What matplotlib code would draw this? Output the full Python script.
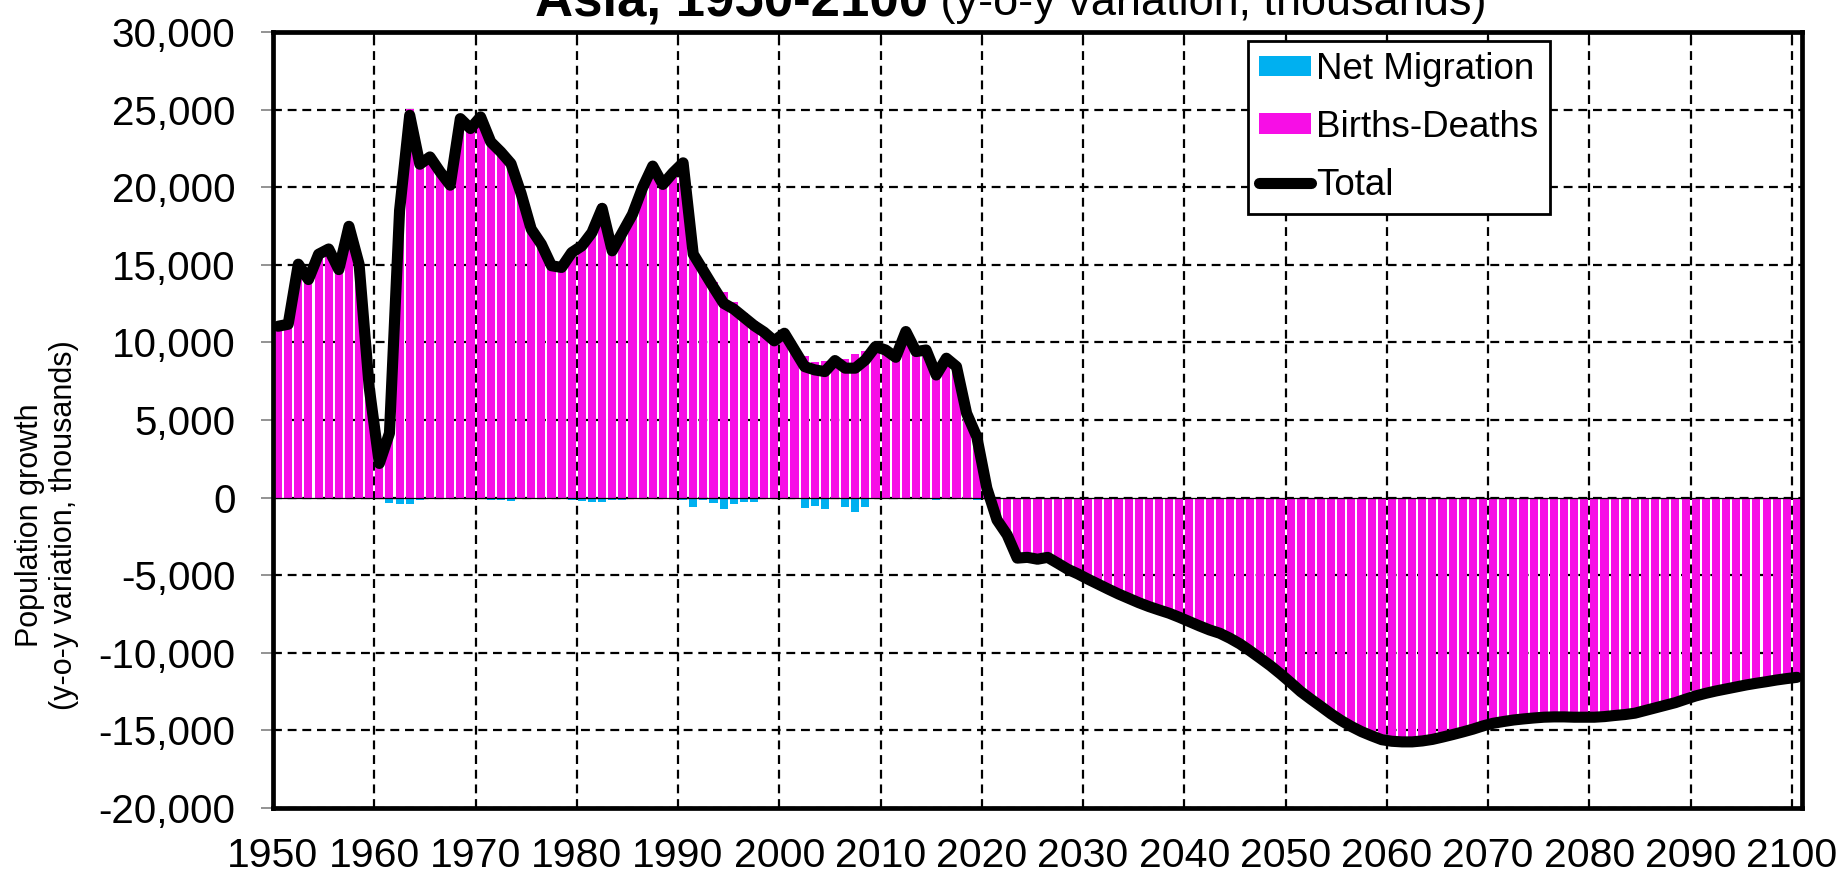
import numpy as np
import matplotlib
matplotlib.use("Agg")
import matplotlib.pyplot as plt
from matplotlib.patches import Patch
from matplotlib.lines import Line2D
from matplotlib.ticker import FuncFormatter

plt.rcParams['font.family'] = ['Liberation Sans', 'DejaVu Sans']

# ---------------- data (thousands, y-o-y) ----------------
years = list(range(1950, 2101))

total = [
    # 1950-1959
    11040, 11170, 15040, 14050, 15680, 16020, 14690, 17480, 15040, 7100,
    # 1960-1969
    2200, 4150, 18500, 24640, 21480, 21950, 20990, 20130, 24420, 23780,
    # 1970-1979
    24530, 22920, 22270, 21520, 19590, 17300, 16330, 14940, 14830, 15790,
    # 1980-1989
    16220, 17080, 18640, 15900, 17080, 18250, 19970, 21360, 20180, 20930,
    # 1990-1999
    21570, 15690, 14620, 13550, 12520, 12150, 11620, 11090, 10660, 10100,
    # 2000-2009
    10590, 9510, 8440, 8230, 8120, 8830, 8340, 8340, 8870, 9730,
    # 2010-2019
    9510, 9040, 10700, 9410, 9510, 7900, 8980, 8440, 5430, 3930,
    # 2020-2029
    600, -1440, -2400, -3900, -3850, -3970, -3850, -4230, -4620, -4920,
    # 2030-2039
    -5260, -5580, -5900, -6210, -6490, -6770, -7020, -7240, -7450, -7710,
    # 2040-2049
    -7990, -8270, -8530, -8740, -9060, -9430, -9880, -10350, -10830, -11360,
    # 2050-2059
    -11920, -12500, -12990, -13460, -13940, -14370, -14750, -15080, -15350, -15600,
    # 2060-2069
    -15700, -15740, -15740, -15680, -15580, -15430, -15270, -15100, -14920, -14710,
    # 2070-2079
    -14540, -14430, -14330, -14260, -14200, -14150, -14130, -14130, -14150, -14150,
    # 2080-2089
    -14150, -14110, -14040, -13980, -13890, -13720, -13550, -13380, -13210, -12990,
    # 2090-2099
    -12780, -12610, -12460, -12330, -12200, -12070, -11960, -11860, -11750, -11660,
    # 2100
    -11580,
]

net_migration = [
    # 1950-1959
    -20, -20, -20, -20, -20, -20, -20, -20, -20, -20,
    # 1960-1969
    -20, -340, -390, -430, -170, -110, -20, -20, -20, -20,
    # 1970-1979
    -20, -150, -150, -200, -100, -90, -90, -30, -30, -150,
    # 1980-1989
    -210, -260, -260, -150, -150, -50, -30, -30, -60, -100,
    # 1990-1999
    -150, -580, -150, -360, -730, -430, -300, -260, -30, -30,
    # 2000-2009
    -90, -90, -690, -520, -710, -20, -600, -900, -580, -20,
    # 2010-2019
    -20, -20, -20, -20, -20, -130, -20, -20, -20, -150,
    # 2020
    -100,
] + [0] * 80

births_deaths = [t - m for t, m in zip(total, net_migration)]

x_labels = [str(y) for y in range(1950, 2101, 10)]

# ---------------- styling ----------------
W, H = 1849, 877
fig = plt.figure(figsize=(W / 100, H / 100), dpi=100)
ax = fig.add_axes([273 / W, 1 - 808 / H, (1802 - 273) / W, (808 - 32) / H])

CYAN = '#00B0F0'
MAGENTA = '#F70EE6'

xc = np.array(years) + 0.5
ax.bar(xc, births_deaths, width=0.8, color=MAGENTA, zorder=2, linewidth=0)
mig = np.array(net_migration, dtype=float)
ax.bar(xc, mig, width=0.8, color=CYAN, zorder=2, linewidth=0,
       bottom=np.where(np.array(births_deaths) < 0, births_deaths, 0))
ax.axhline(0, color='black', lw=0.9, zorder=3)
ax.plot(xc, total, color='black', lw=8, zorder=4,
        solid_joinstyle='round', solid_capstyle='round')

ax.set_xlim(1950, 2101)
ax.set_ylim(-20000, 30000)
ax.set_xticks(range(1950, 2101, 10))
ax.set_xticklabels(x_labels)
ax.set_yticks(range(-20000, 30001, 5000))
ax.yaxis.set_major_formatter(FuncFormatter(lambda v, p: f"{int(v):,}"))

ax.grid(True, color='black', lw=1.6, linestyle=(0, (4, 2.6)), zorder=1)
ax.set_axisbelow(True)

for s in ax.spines.values():
    s.set_linewidth(3.4)
    s.set_color('black')
    s.set_zorder(5)

ax.tick_params(axis='y', direction='out', length=9, width=1.2, color='#808080',
               pad=18, labelsize=29, labelcolor='black')
ax.tick_params(axis='x', direction='in', length=6, width=1.5, color='black',
               top=True, bottom=False, pad=21, labelsize=29.5, labelcolor='black')

fig.text(47 / W, 1 - 525 / H, "Population growth\n(y-o-y variation, thousands)",
         rotation=90, ha='center', va='center', fontsize=22, linespacing=1.2)

ty = 1 - 15 / H
fig.text(928 / W, ty, "Asia, 1950-2100", ha='right', va='baseline',
         fontsize=38, fontweight='bold')
fig.text(928 / W, ty, " (y-o-y variation, thousands)", ha='left', va='baseline',
         fontsize=32.5)

handles = [
    Patch(facecolor=CYAN, edgecolor='none', label='Net Migration'),
    Patch(facecolor=MAGENTA, edgecolor='none', label='Births-Deaths'),
    Line2D([], [], color='black', lw=8, solid_capstyle='round', label='Total'),
]
leg = fig.legend(handles=handles, loc='upper left',
                 bbox_to_anchor=(1248 / W, 1 - 41 / H),
                 bbox_transform=fig.transFigure, fontsize=26.5,
                 frameon=True, fancybox=False, framealpha=1, edgecolor='black',
                 borderpad=0.3, handlelength=1.41, handleheight=0.49,
                 handletextpad=0.15, labelspacing=0.62, borderaxespad=0)
leg.get_frame().set_linewidth(2)
leg.set_zorder(10)

fig.savefig('out.png', dpi=100)
